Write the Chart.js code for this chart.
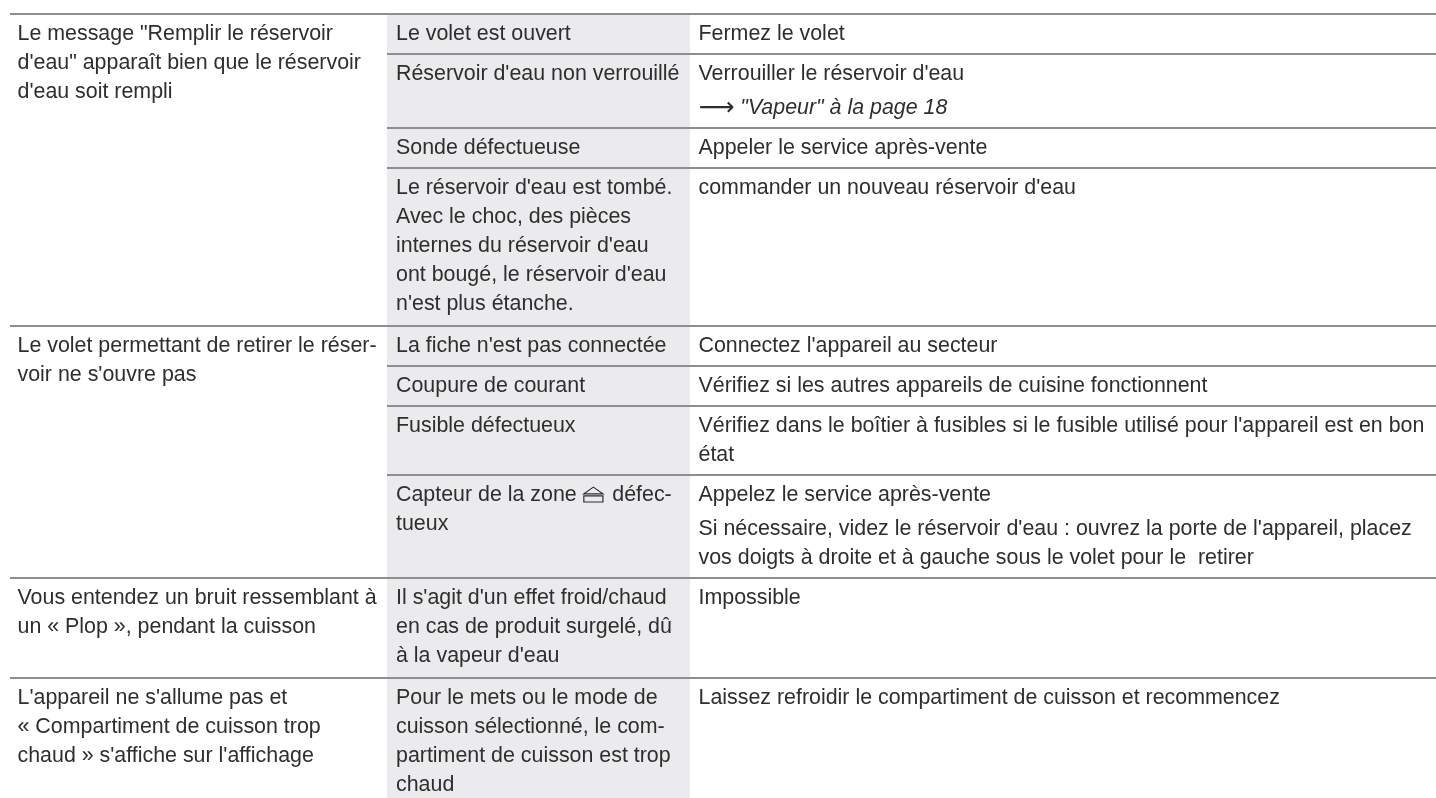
<!DOCTYPE html>
<html>
<head>
<meta charset="utf-8">
<title>Tableau de dépannage</title>
<script src="https://cdn.jsdelivr.net/npm/chart.js@4"></script>
<style>
  html, body { margin: 0; padding: 0; background: #fff; }
  #chart { display: block; }
</style>
</head>
<body>
<canvas id="chart" width="1436" height="798"></canvas>
<script>
// horizontal rules, in page units on the y scale
const majorRules = [14, 326, 578, 678]
const minorRules = [54, 128, 168, 366, 406, 475]
const rowTops = [14, 54, 128, 168, 326, 366, 406, 475, 578, 678]

// first column, one entry per major row
const problemRows = [0, 4, 8, 9]
const problems = [
    ['Le message "Remplir le réservoir', 'd\'eau" apparaît bien que le réservoir', 'd\'eau soit rempli'],
    ['Le volet permettant de retirer le réser-', 'voir ne s\'ouvre pas'],
    ['Vous entendez un bruit ressemblant à', 'un « Plop », pendant la cuisson'],
    ['L\'appareil ne s\'allume pas et', '« Compartiment de cuisson trop', 'chaud » s\'affiche sur l\'affichage']
]

// second column, one entry per row
const causes = [
    ['Le volet est ouvert'],
    ['Réservoir d\'eau non verrouillé'],
    ['Sonde défectueuse'],
    ['Le réservoir d\'eau est tombé.', 'Avec le choc, des pièces', 'internes du réservoir d\'eau', 'ont bougé, le réservoir d\'eau', 'n\'est plus étanche.'],
    ['La fiche n\'est pas connectée'],
    ['Coupure de courant'],
    ['Fusible défectueux'],
    ['Capteur de la zone ⏏ défec-', 'tueux'],
    ['Il s\'agit d\'un effet froid/chaud', 'en cas de produit surgelé, dû', 'à la vapeur d\'eau'],
    ['Pour le mets ou le mode de', 'cuisson sélectionné, le com-', 'partiment de cuisson est trop', 'chaud']
]

// third column, one entry per row, each a list of paragraphs
const remedies = [
    [['Fermez le volet']],
    [['Verrouiller le réservoir d\'eau'], ['⟶ "Vapeur" à la page 18']],
    [['Appeler le service après-vente']],
    [['commander un nouveau réservoir d\'eau']],
    [['Connectez l\'appareil au secteur']],
    [['Vérifiez si les autres appareils de cuisine fonctionnent']],
    [['Vérifiez dans le boîtier à fusibles si le fusible utilisé pour l\'appareil est en bon', 'état']],
    [['Appelez le service après-vente'], ['Si nécessaire, videz le réservoir d\'eau : ouvrez la porte de l\'appareil, placez', 'vos doigts à droite et à gauche sous le volet pour le  retirer']],
    [['Impossible']],
    [['Laissez refroidir le compartiment de cuisson et recommencez']]
]

const pageWidth = 1436
const pageHeight = 798
const leftEdge = 10
const bandLeft = 387
const bandRight = 690
const col1 = 17.5
const col2 = 396
const col3 = 698.5
const firstBaseline = 25.5
const lineHeight = 29
const paraGap = 5
const textColor = '#2e2e2e'
const textFont = '21.4px "Liberation Sans"'
const italicFont = 'italic 21.4px "Liberation Sans"'
const arrowFont = '25px "DejaVu Sans"'
const ejectFont = '25px "DejaVu Sans"'

function drawLine(ctx, text, x, y) {
    // the arrow and the eject sign need DejaVu, the rest is plain text
    const parts = text.split(/([⏏⟶])/).filter(p => p !== '')
    let italic = false
    parts.forEach(part => {
        if (part === '⟶') {
            ctx.font = arrowFont
            ctx.fillText(part, x, y + 1)
            x += ctx.measureText(part).width
            italic = true
        } else if (part === '⏏') {
            ctx.font = ejectFont
            ctx.strokeText(part, x - 1, y + 1)
            x += ctx.measureText(part).width
        } else {
            ctx.font = italic ? italicFont : textFont
            ctx.fillText(part, x, y)
            x += ctx.measureText(part).width
        }
    })
}

const tableText = {
    id: 'tableText',
    afterDatasetsDraw(chart) {
        const { ctx, scales: { x, y } } = chart
        ctx.save()
        ctx.fillStyle = textColor
        ctx.strokeStyle = textColor
        ctx.lineWidth = 1.2
        ctx.textBaseline = 'alphabetic'
        problems.forEach((lines, i) => {
            const top = rowTops[problemRows[i]] + firstBaseline
            lines.forEach((line, n) => {
                drawLine(ctx, line, x.getPixelForValue(col1), y.getPixelForValue(top + n * lineHeight))
            })
        })
        causes.forEach((lines, i) => {
            const top = rowTops[i] + firstBaseline
            lines.forEach((line, n) => {
                drawLine(ctx, line, x.getPixelForValue(col2), y.getPixelForValue(top + n * lineHeight))
            })
        })
        remedies.forEach((paras, i) => {
            let pos = rowTops[i] + firstBaseline
            paras.forEach(lines => {
                lines.forEach(line => {
                    drawLine(ctx, line, x.getPixelForValue(col3), y.getPixelForValue(pos))
                    pos += lineHeight
                })
                pos += paraGap
            })
        })
        ctx.restore()
    }
}

function ruleDataset(yValue, fromX) {
    return {
        type: 'line',
        data: [{ x: fromX, y: yValue }, { x: pageWidth, y: yValue }],
        borderColor: '#8e8e8e',
        borderWidth: 2,
        pointRadius: 0,
        fill: false,
        order: 1
    }
}

function initChart() {
    const ctx = document.getElementById('chart').getContext('2d')
    new Chart(ctx, {
        type: 'line',
        data: {
            datasets: [
                {
                    // grey background of the cause column
                    data: [{ x: bandLeft, y: majorRules[0] }, { x: bandRight, y: majorRules[0] }],
                    borderWidth: 0,
                    pointRadius: 0,
                    backgroundColor: '#ebebed',
                    fill: { value: pageHeight },
                    order: 2
                },
                ...majorRules.map(v => ruleDataset(v, leftEdge)),
                ...minorRules.map(v => ruleDataset(v, bandLeft))
            ]
        },
        options: {
            responsive: false,
            animation: false,
            layout: { padding: 0 },
            plugins: {
                legend: { display: false },
                title: { display: false },
                tooltip: { enabled: false }
            },
            scales: {
                x: { type: 'linear', min: 0, max: pageWidth, display: false },
                y: { type: 'linear', min: 0, max: pageHeight, reverse: true, display: false }
            }
        },
        plugins: [tableText]
    })
}

initChart()
</script>
</body>
</html>
